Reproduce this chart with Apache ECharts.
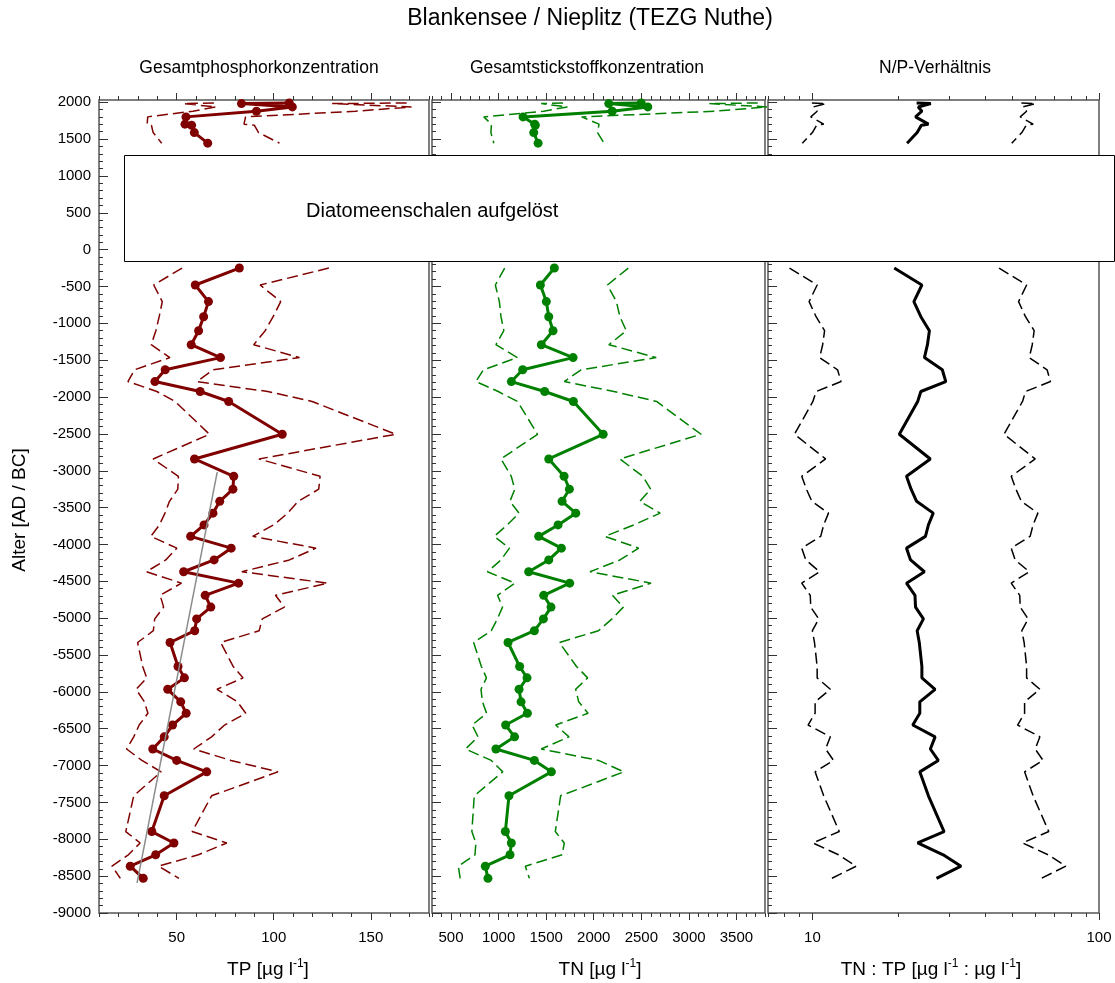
<!DOCTYPE html>
<html><head><meta charset="utf-8">
<script src="https://cdn.jsdelivr.net/npm/echarts@6/dist/echarts.min.js"></script>
<style>html,body{margin:0;padding:0;background:#fff}#c{width:1115px;height:983px}</style>
</head><body><div id="c"></div>
<script>
// ---- recent section (above the dissolved-diatom gap) ----
const ageA = [1990, 1981, 1936, 1878, 1801, 1702, 1688, 1588, 1444];
const tpA = [108.0, 83.4, 109.6, 91.1, 54.8, 54.3, 57.7, 59.1, 66.0];
const tpA_lo = [69.2, 53.5, 70.3, 58.4, 35.1, 34.8, 37.0, 37.9, 42.3];
const tpA_hi = [168.5, 130.1, 171.0, 142.1, 85.5, 84.7, 90.0, 92.2, 103.0];
const tnA = [2499, 2158, 2568, 2194, 1257, 1379, 1386, 1369, 1415];
const tnA_lo = [1677, 1448, 1723, 1472, 844, 925, 930, 919, 950];
const tnA_hi = [3724, 3215, 3826, 3269, 1873, 2055, 2065, 2040, 2108];
const npA = [23.1, 25.9, 23.4, 24.1, 22.9, 25.4, 24.0, 23.2, 21.4];
const npA_lo = [9.96, 11.16, 10.09, 10.39, 9.87, 10.95, 10.34, 10.00, 9.22];
const npA_hi = [53.6, 60.1, 54.3, 55.9, 53.1, 58.9, 55.7, 53.8, 49.6];

// ---- older section ----
const ageB = [-250, -480, -705, -910, -1100, -1290, -1465, -1630, -1790, -1925, -2060, -2505, -2840, -3075, -3250, -3415, -3575, -3735, -3890, -4050, -4210, -4370, -4525, -4690, -4850, -5010, -5170, -5330, -5655, -5810, -5965, -6135, -6290, -6450, -6610, -6775, -6930, -7085, -7410, -7895, -8050, -8210, -8365, -8530];
const tpB = [82.3, 59.6, 66.4, 63.9, 61.3, 57.5, 72.6, 44.1, 38.8, 62.1, 76.8, 104.4, 59.2, 79.4, 79.0, 72.2, 68.7, 64.1, 57.2, 78.1, 69.3, 53.6, 81.9, 64.7, 67.6, 60.3, 59.3, 46.6, 50.7, 54.0, 45.4, 52.1, 54.9, 47.9, 43.6, 37.7, 50.0, 65.5, 43.6, 37.2, 48.6, 39.2, 26.1, 32.8];
const tpB_lo = [52.8, 38.2, 42.6, 41.0, 39.3, 36.9, 46.5, 28.3, 24.9, 39.8, 49.2, 66.9, 37.9, 50.9, 50.6, 46.3, 44.0, 41.1, 36.7, 50.1, 44.4, 34.4, 52.5, 41.5, 43.3, 38.7, 38.0, 29.9, 32.5, 34.6, 29.1, 33.4, 35.2, 30.7, 27.9, 24.2, 32.1, 42.0, 27.9, 23.8, 31.2, 25.1, 16.7, 21.0];
const tpB_hi = [128.4, 93.0, 103.6, 99.7, 95.6, 89.7, 113.3, 68.8, 60.5, 96.9, 119.8, 162.9, 92.4, 123.9, 123.2, 112.6, 107.2, 100.0, 89.2, 121.8, 108.1, 83.6, 127.8, 100.9, 105.5, 94.1, 92.5, 72.7, 79.1, 84.2, 70.8, 81.3, 85.6, 74.7, 68.0, 58.8, 78.0, 102.2, 68.0, 58.0, 75.8, 61.2, 40.7, 51.2];
const tnB = [1586, 1439, 1502, 1527, 1572, 1449, 1783, 1253, 1134, 1484, 1786, 2099, 1527, 1688, 1744, 1667, 1811, 1625, 1421, 1660, 1527, 1316, 1747, 1474, 1551, 1471, 1376, 1099, 1221, 1299, 1215, 1236, 1302, 1074, 1168, 972, 1376, 1555, 1109, 1071, 1134, 1120, 860, 888];
const tnB_lo = [1064, 966, 1008, 1025, 1055, 972, 1197, 841, 761, 996, 1199, 1409, 1025, 1133, 1170, 1119, 1215, 1091, 954, 1114, 1025, 883, 1172, 989, 1041, 987, 923, 738, 819, 872, 815, 830, 874, 721, 784, 652, 923, 1044, 744, 719, 761, 752, 577, 596];
const tnB_hi = [2363, 2144, 2238, 2275, 2342, 2159, 2657, 1867, 1690, 2211, 2661, 3128, 2275, 2515, 2599, 2484, 2698, 2421, 2117, 2473, 2275, 1961, 2603, 2196, 2311, 2192, 2050, 1638, 1819, 1936, 1810, 1842, 1940, 1600, 1740, 1448, 2050, 2317, 1652, 1596, 1690, 1669, 1281, 1323];
const npB = [19.3, 24.1, 22.6, 23.9, 25.6, 25.2, 24.6, 28.4, 29.2, 23.9, 23.3, 20.1, 25.8, 21.3, 22.1, 23.1, 26.4, 25.4, 24.8, 21.3, 22.0, 24.6, 21.3, 22.8, 22.9, 24.4, 23.2, 23.6, 24.1, 24.1, 26.8, 23.7, 23.7, 22.4, 26.8, 25.8, 27.5, 23.7, 25.4, 28.8, 23.3, 28.6, 33.0, 27.1];
const npB_lo = [8.32, 10.39, 9.74, 10.30, 11.03, 10.86, 10.60, 12.24, 12.59, 10.30, 10.04, 8.66, 11.12, 9.18, 9.53, 9.96, 11.38, 10.95, 10.69, 9.18, 9.48, 10.60, 9.18, 9.83, 9.87, 10.52, 10.00, 10.17, 10.39, 10.39, 11.55, 10.22, 10.22, 9.66, 11.55, 11.12, 11.85, 10.22, 10.95, 12.41, 10.04, 12.33, 14.22, 11.68];
const npB_hi = [44.8, 55.9, 52.4, 55.4, 59.4, 58.5, 57.1, 65.9, 67.7, 55.4, 54.1, 46.6, 59.9, 49.4, 51.3, 53.6, 61.2, 58.9, 57.5, 49.4, 51.0, 57.1, 49.4, 52.9, 53.1, 56.6, 53.8, 54.8, 55.9, 55.9, 62.2, 55.0, 55.0, 52.0, 62.2, 59.9, 63.8, 55.0, 58.9, 66.8, 54.1, 66.4, 76.6, 62.9];

// trend line in TP panel
const trendTP = [70.9, 29.6];
const trendAge = [-3020, -8590];

// tick labels
const yTickLabels = [2000, 1500, 1000, 500, 0, -500, -1000, -1500, -2000, -2500, -3000, -3500, -4000, -4500, -5000, -5500, -6000, -6500, -7000, -7500, -8000, -8500, -9000];
const tpTickLabels = [50, 100, 150];
const tnTickLabels = [500, 1000, 1500, 2000, 2500, 3000, 3500];
const npTickLabels = [10, 100];

const FONT = 'Liberation Sans, Arial, sans-serif';
const range = (a, b, s) => { const r = []; for (let v = a; v <= b + 1e-9; v += s) r.push(Math.round(v * 100) / 100); return r; };
const yMinor = range(-9000, 2000, 100).filter(v => v % 500 !== 0);
const tpMinor = range(10, 180, 10).filter(v => v % 50 !== 0);
const tnMinor = range(300, 3800, 100).filter(v => v % 500 !== 0);
const npMinor = [7, 8, 9, 20, 30, 40, 50, 60, 70, 80, 90];

const grids = [
  { left: 99, top: 100, width: 330, height: 813 },
  { left: 432, top: 100, width: 333, height: 813 },
  { left: 768, top: 100, width: 331, height: 813 }
];
const xDefs = [
  { type: 'value', min: 10, max: 180, major: tpTickLabels, minor: tpMinor },
  { type: 'value', min: 300, max: 3800, major: tnTickLabels, minor: tnMinor },
  { type: 'log', min: 7, max: 100, major: npTickLabels, minor: npMinor }
];
const plain = v => String(Math.round(v));
const tickLine = { color: '#333', width: 1 };
const xAxes = [], yAxes = [];
xDefs.forEach((d, p) => {
  const base = { type: d.type, gridIndex: p, min: d.min, max: d.max, splitLine: { show: false }, axisLine: { show: false, onZero: false } };
  if (d.type === 'log') base.logBase = 10;
  xAxes.push(Object.assign({}, base, { position: 'bottom',
    axisTick: { show: true, inside: false, length: 7, customValues: d.major, lineStyle: tickLine },
    axisLabel: { show: true, customValues: d.major, formatter: plain, margin: 17, fontSize: 15, color: '#000', fontFamily: FONT } }));
  xAxes.push(Object.assign({}, base, { position: 'bottom',
    axisTick: { show: true, inside: false, length: 4, customValues: d.minor, lineStyle: tickLine },
    axisLabel: { show: false } }));
  xAxes.push(Object.assign({}, base, { position: 'top',
    axisTick: { show: true, inside: false, length: 7, customValues: d.major, lineStyle: tickLine },
    axisLabel: { show: false } }));
  xAxes.push(Object.assign({}, base, { position: 'top',
    axisTick: { show: true, inside: false, length: 4, customValues: d.minor, lineStyle: tickLine },
    axisLabel: { show: false } }));
  const ybase = { type: 'value', gridIndex: p, min: -9000, max: 2030, position: 'left', splitLine: { show: false }, axisLine: { show: false, onZero: false } };
  yAxes.push(Object.assign({}, ybase, {
    axisTick: { show: true, inside: true, length: 9, customValues: yTickLabels, lineStyle: tickLine },
    axisLabel: { show: p === 0, customValues: yTickLabels, formatter: plain, margin: 8, fontSize: 15, color: '#000', fontFamily: FONT } }));
  yAxes.push(Object.assign({}, ybase, {
    axisTick: { show: true, inside: true, length: 4, customValues: yMinor, lineStyle: tickLine },
    axisLabel: { show: false } }));
});

const pts = (xs, ys) => xs.map((x, i) => [x, ys[i]]);
const series = [];
function addLine(p, xs, ys, color, kind) {
  const s = { type: 'line', xAxisIndex: p * 4, yAxisIndex: p * 2, data: pts(xs, ys), animation: false, silent: true, clip: true,
    lineStyle: { color: color, width: 1.5 }, itemStyle: { color: color }, symbol: 'none', z: 3 };
  if (kind === 'dash') { s.lineStyle.type = [11, 5]; }
  if (kind === 'dots') { s.lineStyle.width = 3; s.symbol = 'circle'; s.symbolSize = 9; s.showSymbol = true; s.z = 4; }
  if (kind === 'thick') { s.lineStyle.width = 3; s.z = 4; }
  series.push(s);
}
const RED = '#800000', GREEN = '#008000', BLACK = '#000000';
[[ageA, tpA, tpA_lo, tpA_hi], [ageB, tpB, tpB_lo, tpB_hi]].forEach(([a, v, lo, hi]) => {
  addLine(0, lo, a, RED, 'dash'); addLine(0, hi, a, RED, 'dash'); addLine(0, v, a, RED, 'dots');
});
[[ageA, tnA, tnA_lo, tnA_hi], [ageB, tnB, tnB_lo, tnB_hi]].forEach(([a, v, lo, hi]) => {
  addLine(1, lo, a, GREEN, 'dash'); addLine(1, hi, a, GREEN, 'dash'); addLine(1, v, a, GREEN, 'dots');
});
[[ageA, npA, npA_lo, npA_hi], [ageB, npB, npB_lo, npB_hi]].forEach(([a, v, lo, hi]) => {
  addLine(2, lo, a, BLACK, 'dash'); addLine(2, hi, a, BLACK, 'dash'); addLine(2, v, a, BLACK, 'thick');
});
series.push({ type: 'line', xAxisIndex: 0, yAxisIndex: 0, data: pts(trendTP, trendAge), symbol: 'none', animation: false, silent: true,
  lineStyle: { color: '#8c8c8c', width: 1.5 }, z: 5 });

const txt = (x, y, text, size, align, extra) => Object.assign({ type: 'text', x: x, y: y, z: 200,
  style: { text: text, fontSize: size, fontFamily: FONT, fill: '#000', align: align || 'center', verticalAlign: 'middle' } }, extra || {});
const rich = { a: { fontSize: 19, lineHeight: 24, fontFamily: FONT, color: '#000' }, s: { fontSize: 12, lineHeight: 12, verticalAlign: 'top', fontFamily: FONT, color: '#000' } };
const richTxt = (x, y, text) => ({ type: 'text', x: x, y: y, z: 200,
  style: { text: text, rich: rich, align: 'center', verticalAlign: 'middle', fill: '#000' } });

const option = {
  backgroundColor: '#fff',
  animation: false,
  grid: grids.map(g => Object.assign({ show: true, borderColor: '#555', borderWidth: 1.5, backgroundColor: 'transparent', containLabel: false }, g)),
  xAxis: xAxes,
  yAxis: yAxes,
  series: series,
  graphic: [
    { type: 'rect', z: 100, shape: { x: 124.5, y: 155.5, width: 990, height: 106 }, style: { fill: '#fff', stroke: '#000', lineWidth: 1 } },
    txt(306, 211, 'Diatomeenschalen aufgelöst', 20, 'left'),
    txt(590, 19, 'Blankensee / Nieplitz (TEZG Nuthe)', 23),
    txt(259, 68, 'Gesamtphosphorkonzentration', 17.5),
    txt(587, 68, 'Gesamtstickstoffkonzentration', 17.5),
    txt(935, 68, 'N/P-Verhältnis', 17.5),
    txt(20, 510, 'Alter [AD / BC]', 19, 'center', { rotation: Math.PI / 2 }),
    richTxt(268, 970, '{a|TP [µg l}{s|-1}{a|]}'),
    richTxt(600, 970, '{a|TN [µg l}{s|-1}{a|]}'),
    richTxt(931, 970, '{a|TN : TP [µg l}{s|-1}{a| : µg l}{s|-1}{a|]}')
  ]
};
const chart = echarts.init(document.getElementById('c'), null, { renderer: 'canvas' });
chart.setOption(option);
</script></body></html>
